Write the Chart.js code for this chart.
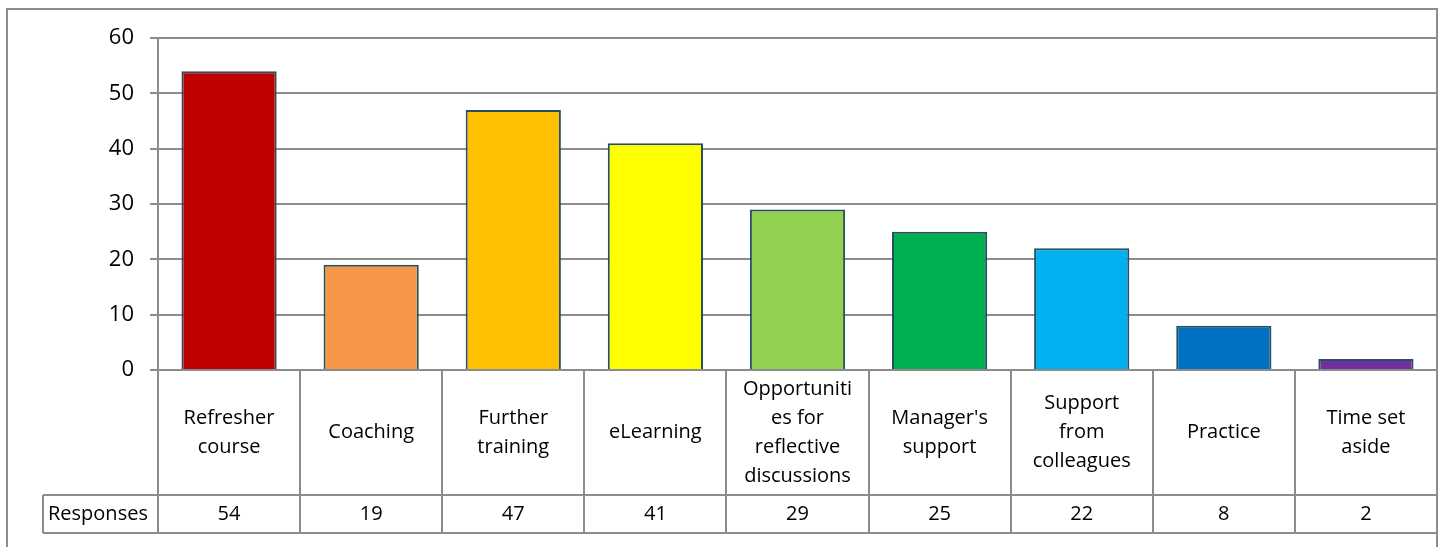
<!DOCTYPE html>
<html>
<head>
<meta charset="utf-8">
<script src="https://cdn.jsdelivr.net/npm/chart.js@4/dist/chart.umd.min.js"></script>
<style>
  html, body { margin: 0; padding: 0; background: #fff; }
  #wrap { width: 1443px; height: 547px; position: relative; }
</style>
</head>
<body>
<div id="wrap"><canvas id="chart"></canvas></div>
<script>
// Categories as they wrap inside the data table cells
const categories = [
  ['Refresher', 'course'],
  ['Coaching'],
  ['Further', 'training'],
  ['eLearning'],
  ['Opportuniti', 'es for', 'reflective', 'discussions'],
  ["Manager's", 'support'],
  ['Support', 'from', 'colleagues'],
  ['Practice'],
  ['Time set', 'aside']
];
const responses = [54, 19, 47, 41, 29, 25, 22, 8, 2];
const barColors = ['#C00000', '#F79646', '#FFC000', '#FFFF00', '#92D050', '#00B050', '#00B0F0', '#0070C0', '#7030A0'];
const seriesName = 'Responses';
const yTicks = [0, 10, 20, 30, 40, 50, 60];

const FONT = '"Open Sans", "DejaVu Sans", sans-serif';
const LINE = '#8c8c8c';

// Draws the outer frame and the data table below the plot
const dataTablePlugin = {
  id: 'dataTable',
  afterDraw(chart) {
    const ctx = chart.ctx;
    const area = chart.chartArea;
    const xs = chart.scales.x;
    const step = (area.right - area.left) / categories.length;
    const rowTop = 495, rowBottom = 533, legendLeft = 43;

    ctx.save();
    ctx.strokeStyle = LINE;
    ctx.lineWidth = 2;

    // outer chart frame
    ctx.strokeRect(7, 9, 1430, 560);

    // vertical cell borders
    ctx.beginPath();
    for (let i = 0; i <= categories.length; i++) {
      const x = Math.round(area.left + i * step);
      ctx.moveTo(x, area.bottom);
      ctx.lineTo(x, rowBottom);
    }
    ctx.moveTo(legendLeft, rowTop);
    ctx.lineTo(legendLeft, rowBottom);
    // horizontal rows
    ctx.moveTo(legendLeft, rowTop);
    ctx.lineTo(area.right, rowTop);
    ctx.moveTo(legendLeft, rowBottom);
    ctx.lineTo(area.right, rowBottom);
    ctx.stroke();

    // category labels
    ctx.fillStyle = '#000';
    ctx.font = '20px ' + FONT;
    ctx.textAlign = 'center';
    ctx.textBaseline = 'middle';
    const lh = 29;
    const midY = (area.bottom + rowTop) / 2;
    categories.forEach((lines, i) => {
      const cx = xs.getPixelForValue(i);
      const y0 = midY - (lines.length - 1) * lh / 2;
      lines.forEach((t, k) => ctx.fillText(t, cx, y0 + k * lh));
    });

    // values row
    const vy = (rowTop + rowBottom) / 2;
    responses.forEach((v, i) => {
      ctx.fillText(String(v), xs.getPixelForValue(i), vy);
    });
    ctx.textAlign = 'left';
    ctx.fillText(seriesName, legendLeft + 5, vy);
    ctx.restore();
  }
};

new Chart(document.getElementById('chart'), {
  type: 'bar',
  data: {
    labels: categories.map(c => c.join(' ')),
    datasets: [{
      label: seriesName,
      data: responses,
      backgroundColor: barColors,
      borderColor: '#274F5E',
      borderWidth: 2,
      borderSkipped: 'bottom',
      barPercentage: 0.67,
      categoryPercentage: 1
    }]
  },
  options: {
    responsive: true,
    maintainAspectRatio: false,
    animation: false,
    layout: { padding: { left: 0, top: 38, right: 6, bottom: 177 } },
    plugins: {
      legend: { display: false },
      tooltip: { enabled: false }
    },
    scales: {
      x: { display: false },
      y: {
        min: 0,
        max: 60,
        afterFit(scale) { scale.width = 158; },
        afterBuildTicks(scale) { scale.ticks = yTicks.map(v => ({ value: v })); },
        ticks: {
          color: '#000',
          font: { family: FONT, size: 22 },
          padding: 16
        },
        grid: { color: LINE, lineWidth: 2, tickLength: 8 },
        border: { display: true, color: LINE, width: 2 }
      }
    }
  },
  plugins: [dataTablePlugin]
});
</script>
</body>
</html>
